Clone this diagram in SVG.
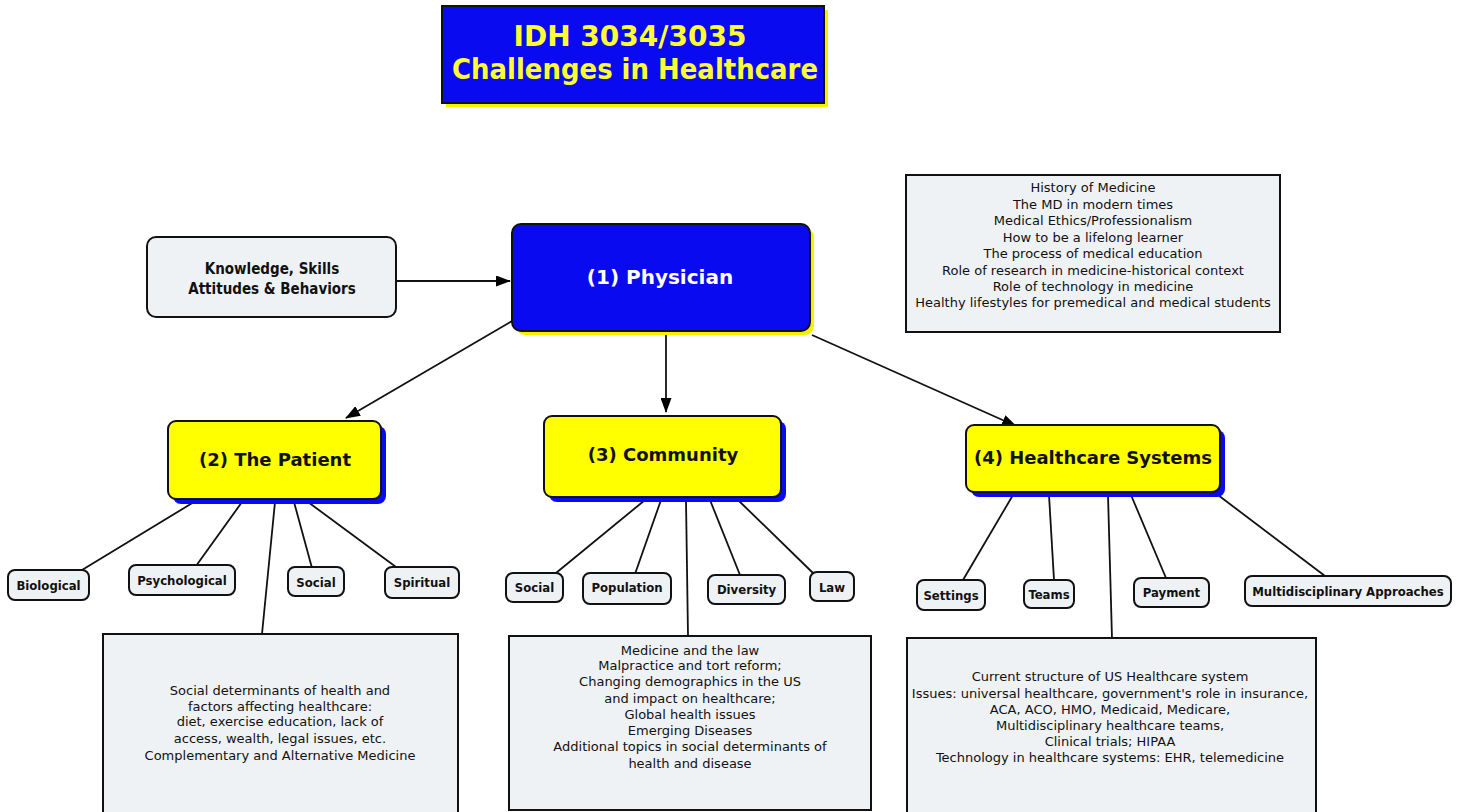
<svg xmlns="http://www.w3.org/2000/svg" width="1461" height="812" viewBox="0 0 1461 812">
<defs>
<marker id="ah" viewBox="0 0 15 11" refX="14" refY="5.5" markerWidth="15" markerHeight="11" markerUnits="userSpaceOnUse" orient="auto">
<path d="M0,0 L15,5.5 L0,11 z" fill="#000"/>
</marker>
<style>
.t{font-family:"DejaVu Sans Condensed","DejaVu Sans",sans-serif;text-anchor:middle;fill:#111;}
.w{font-family:"DejaVu Sans",sans-serif;}
.b{font-weight:bold;}
.lt{fill:#eef2f5;stroke:#111;stroke-width:2;}
.sm{font-size:13px;font-weight:bold;}
.body{font-family:"DejaVu Sans",sans-serif;font-size:13px;}
.yel{fill:#ffff00;stroke:#111;stroke-width:2;}
.blu{fill:#0a0af0;stroke:#111;stroke-width:2;}
.con{stroke:#111;stroke-width:1.8;fill:none;}
</style>
</defs>
<rect width="1461" height="812" fill="#fff"/>

<g id="title">
<rect x="446" y="10" width="382" height="97" fill="#f4f000"/>
<rect x="442" y="6" width="382" height="97" class="blu"/>
<text class="t w b" x="630" y="46" font-size="28" style="fill:#ffff33">IDH 3034/3035</text>
<text class="t w b" x="635" y="79" font-size="28" style="fill:#ffff33" textLength="366" lengthAdjust="spacingAndGlyphs">Challenges in Healthcare</text>
</g>

<g id="connectors">
<line class="con" x1="396" y1="281" x2="510" y2="281" marker-end="url(#ah)"/>
<line class="con" x1="512" y1="321" x2="346" y2="418" marker-end="url(#ah)"/>
<line class="con" x1="666" y1="333" x2="666" y2="412" marker-end="url(#ah)"/>
<line class="con" x1="812" y1="335" x2="1016" y2="426" marker-end="url(#ah)"/>
<line class="con" x1="194" y1="502" x2="82" y2="570"/>
<line class="con" x1="242" y1="502" x2="196" y2="566"/>
<line class="con" x1="275" y1="502" x2="262" y2="634"/>
<line class="con" x1="294" y1="502" x2="312" y2="568"/>
<line class="con" x1="308" y1="502" x2="396" y2="567"/>
<line class="con" x1="645" y1="500" x2="556" y2="573"/>
<line class="con" x1="661" y1="500" x2="635" y2="574"/>
<line class="con" x1="686" y1="500" x2="688" y2="636"/>
<line class="con" x1="710" y1="500" x2="740" y2="575"/>
<line class="con" x1="738" y1="500" x2="813" y2="573"/>
<line class="con" x1="1013" y1="495" x2="963" y2="580"/>
<line class="con" x1="1049" y1="495" x2="1054" y2="580"/>
<line class="con" x1="1108" y1="495" x2="1112" y2="638"/>
<line class="con" x1="1131" y1="495" x2="1166" y2="578"/>
<line class="con" x1="1218" y1="495" x2="1325" y2="576"/>
</g>

<g id="knowledge">
<rect x="147" y="237" width="249" height="80" rx="9" class="lt"/>
<text class="t b" x="272" y="274" font-size="15">Knowledge, Skills</text>
<text class="t b" x="272" y="294" font-size="15">Attitudes &amp; Behaviors</text>
</g>

<g id="physician">
<rect x="516" y="228" width="298" height="107" rx="9" fill="#f4f000"/>
<rect x="512" y="224" width="298" height="107" rx="9" class="blu"/>
<text class="t w b" x="660" y="284" font-size="20" style="fill:#fff">(1) Physician</text>
</g>

<g id="history">
<rect x="906" y="175" width="374" height="157" class="lt"/>
<g class="t body">
<text x="1093" y="192">History of Medicine</text>
<text x="1093" y="209">The MD in modern times</text>
<text x="1093" y="225">Medical Ethics/Professionalism</text>
<text x="1093" y="242">How to be a lifelong learner</text>
<text x="1093" y="258">The process of medical education</text>
<text x="1093" y="275">Role of research in medicine-historical context</text>
<text x="1093" y="291">Role of technology in medicine</text>
<text x="1093" y="307">Healthy lifestyles for premedical and medical students</text>
</g>
</g>

<g id="patient">
<rect x="173" y="426" width="213" height="78" rx="8" fill="#0a0af0"/>
<rect x="168" y="421" width="213" height="78" rx="8" class="yel"/>
<text class="t w b" x="275" y="466" font-size="18">(2) The Patient</text>
</g>

<g id="community">
<rect x="549" y="421" width="237" height="81" rx="8" fill="#0a0af0"/>
<rect x="544" y="416" width="237" height="81" rx="8" class="yel"/>
<text class="t w b" x="663" y="461" font-size="18">(3) Community</text>
</g>

<g id="healthcare">
<rect x="971" y="430" width="254" height="67" rx="8" fill="#0a0af0"/>
<rect x="966" y="425" width="254" height="67" rx="8" class="yel"/>
<text class="t w b" x="1093" y="464" font-size="18">(4) Healthcare Systems</text>
</g>

<g id="biological"><rect x="8" y="570" width="81" height="30" rx="7" class="lt"/><text class="t sm" x="48.5" y="590">Biological</text></g>
<g id="psychological"><rect x="129" y="565" width="106" height="30" rx="7" class="lt"/><text class="t sm" x="182" y="585">Psychological</text></g>
<g id="social1"><rect x="288" y="567" width="56" height="29" rx="7" class="lt"/><text class="t sm" x="316" y="587">Social</text></g>
<g id="spiritual"><rect x="385" y="567" width="74" height="31" rx="7" class="lt"/><text class="t sm" x="422" y="587">Spiritual</text></g>

<g id="social2"><rect x="506" y="573" width="57" height="29" rx="7" class="lt"/><text class="t sm" x="534.5" y="592">Social</text></g>
<g id="population"><rect x="583" y="573" width="88" height="31" rx="7" class="lt"/><text class="t sm" x="627" y="592">Population</text></g>
<g id="diversity"><rect x="708" y="575" width="77" height="29" rx="7" class="lt"/><text class="t sm" x="746.5" y="594">Diversity</text></g>
<g id="law"><rect x="810" y="572" width="44" height="29" rx="7" class="lt"/><text class="t sm" x="832" y="592">Law</text></g>

<g id="settings"><rect x="917" y="580" width="68" height="30" rx="7" class="lt"/><text class="t sm" x="951" y="600">Settings</text></g>
<g id="teams"><rect x="1024" y="580" width="50" height="28" rx="7" class="lt"/><text class="t sm" x="1049" y="599">Teams</text></g>
<g id="payment"><rect x="1134" y="578" width="75" height="29" rx="7" class="lt"/><text class="t sm" x="1171.5" y="597">Payment</text></g>
<g id="multidisciplinary"><rect x="1245" y="576" width="206" height="30" rx="7" class="lt"/><text class="t sm" x="1348" y="596">Multidisciplinary Approaches</text></g>

<g id="patient-topics">
<rect x="103" y="634" width="355" height="182" class="lt"/>
<g class="t body">
<text x="280" y="695">Social determinants of health and</text>
<text x="280" y="711">factors affecting healthcare:</text>
<text x="280" y="726">diet, exercise education, lack of</text>
<text x="280" y="743">access, wealth, legal issues, etc.</text>
<text x="280" y="760">Complementary and Alternative Medicine</text>
</g>
</g>

<g id="community-topics">
<rect x="509" y="636" width="362" height="174" class="lt"/>
<g class="t body">
<text x="690" y="655">Medicine and the law</text>
<text x="690" y="670">Malpractice and tort reform;</text>
<text x="690" y="686">Changing demographics in the US</text>
<text x="690" y="703">and impact on healthcare;</text>
<text x="690" y="719">Global health issues</text>
<text x="690" y="735">Emerging Diseases</text>
<text x="690" y="751">Additional topics in social determinants of</text>
<text x="690" y="768">health and disease</text>
</g>
</g>

<g id="healthcare-topics">
<rect x="907" y="638" width="409" height="178" class="lt"/>
<g class="t body">
<text x="1110" y="681">Current structure of US Healthcare system</text>
<text x="1110" y="698">Issues: universal healthcare, government's role in insurance,</text>
<text x="1110" y="714">ACA, ACO, HMO, Medicaid, Medicare,</text>
<text x="1110" y="730">Multidisciplinary healthcare teams,</text>
<text x="1110" y="746">Clinical trials; HIPAA</text>
<text x="1110" y="762">Technology in healthcare systems: EHR, telemedicine</text>
</g>
</g>
</svg>
